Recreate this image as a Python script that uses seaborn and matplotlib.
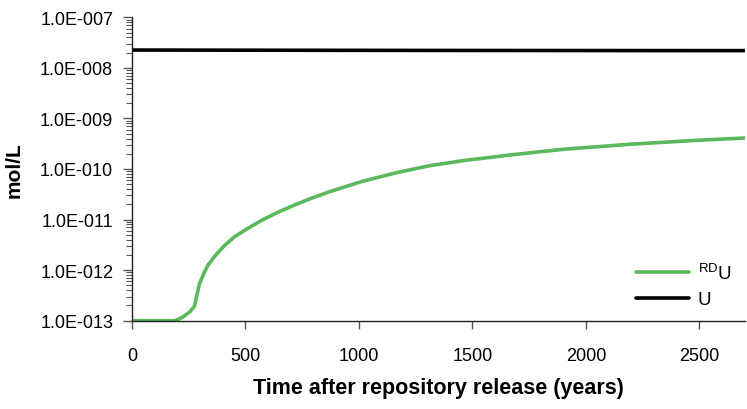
import numpy as np
import pandas as pd
import matplotlib
matplotlib.use("Agg")
import matplotlib.pyplot as plt
import matplotlib.ticker as mticker
import seaborn as sns

# ---- data ----
years_rdu = [0, 190, 223, 255, 275, 297, 315, 333, 365, 407, 450, 498, 570, 642,
             715, 789, 871, 1018, 1165, 1311, 1458, 1664, 1899, 2192, 2486, 2700]
conc_rdu = [1.0e-13, 1.0e-13, 1.17e-13, 1.5e-13, 1.93e-13, 5.3e-13, 8.3e-13, 1.22e-12,
            1.9e-12, 3.04e-12, 4.5e-12, 6.2e-12, 9.6e-12, 1.39e-11,
            1.93e-11, 2.62e-11, 3.56e-11, 5.75e-11, 8.45e-11, 1.16e-10, 1.46e-10,
            1.89e-10, 2.45e-10, 3.08e-10, 3.68e-10, 4.1e-10]
years_u = [0, 1350, 2700]
conc_u = [2.25e-8, 2.21e-8, 2.19e-8]
series_names = ["$^{\\mathrm{RD}}$U", "U"]
x_ticks = [0, 500, 1000, 1500, 2000, 2500]
y_decades = [-13, -12, -11, -10, -9, -8, -7]

df = pd.concat([
    pd.DataFrame({"year": years_rdu, "conc": conc_rdu, "series": series_names[0]}),
    pd.DataFrame({"year": years_u, "conc": conc_u, "series": series_names[1]}),
], ignore_index=True)

sns.set_theme(style="ticks")
plt.rcParams["font.family"] = ["Liberation Sans", "DejaVu Sans"]
plt.rcParams["mathtext.fontset"] = "custom"
plt.rcParams["mathtext.rm"] = "Liberation Sans"
plt.rcParams["mathtext.it"] = "Liberation Sans:italic"
plt.rcParams["mathtext.bf"] = "Liberation Sans:bold"
plt.rcParams["text.color"] = "black"
plt.rcParams["axes.labelcolor"] = "black"

fig = plt.figure(figsize=(7.47, 4.10), dpi=100)
ax = fig.add_axes([0.1767, 0.2154, 0.8203, 0.74])

sns.lineplot(data=df, x="year", y="conc", hue="series",
             palette={series_names[0]: "#5cb85c", series_names[1]: "#000000"},
             linewidth=2.6, ax=ax, sort=False, estimator=None)

ax.set_yscale("log")
ax.set_ylim(1e-13, 1e-7)
ax.set_xlim(0, 2700)
ax.set_xticks(x_ticks)
ax.set_yticks([10.0 ** d for d in y_decades])
ax.yaxis.set_major_formatter(mticker.FuncFormatter(
    lambda v, p: "1.0E-%03d" % int(round(-np.log10(v)))))
ax.yaxis.set_minor_locator(mticker.LogLocator(base=10, subs=np.arange(2, 10), numticks=20))
ax.yaxis.set_minor_formatter(mticker.NullFormatter())

for s in ["top", "right"]:
    ax.spines[s].set_visible(False)
for s in ["left", "bottom"]:
    ax.spines[s].set_linewidth(1.0)
    ax.spines[s].set_color("#222222")

ax.tick_params(axis="y", which="major", direction="out", length=6.5, width=1.0,
               color="#555555", labelsize=13, labelcolor="black", pad=7)
ax.tick_params(axis="x", which="major", direction="out", length=6, width=1.0,
               color="#555555", labelsize=13, labelcolor="black", pad=13)
ax.tick_params(axis="y", which="minor", direction="out", length=4, width=0.8, color="#555555")
ax.tick_params(axis="x", which="minor", length=0)

ax.set_xlabel("Time after repository release (years)", fontsize=15.5, fontweight="bold", labelpad=9)
ax.set_ylabel("mol/L", fontsize=15, fontweight="bold", labelpad=12)

leg = ax.legend(loc="lower right", bbox_to_anchor=(1.0, -0.002), frameon=False,
                fontsize=13.5, handlelength=2.8, handletextpad=0.5, labelspacing=0.45,
                borderaxespad=0.3)
for line in leg.get_lines():
    line.set_linewidth(2.6)

fig.savefig("out.png", dpi=100)
